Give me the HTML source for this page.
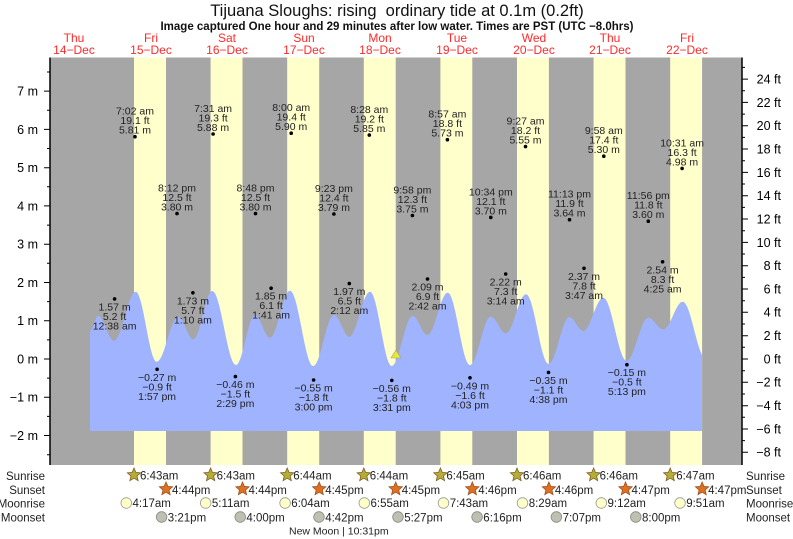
<!DOCTYPE html>
<html><head><meta charset="utf-8"><style>
html,body{margin:0;padding:0;background:#fff}
svg{display:block;font-family:"Liberation Sans",sans-serif}
.l{font-size:10.5px;fill:#222;text-anchor:middle}
.d{font-size:12px;fill:#ff2a2a;text-anchor:middle}
.ax{font-size:12.5px;fill:#000}
.b{font-size:11.5px;fill:#222}
</style></head><body>
<svg width="793" height="539" viewBox="0 0 793 539" xmlns="http://www.w3.org/2000/svg">
<defs>
<path id="st" d="M0,-7 L1.88,-2.59 L6.66,-2.16 L3.04,0.99 L4.11,5.66 L0,3.2 L-4.11,5.66 L-3.04,0.99 L-6.66,-2.16 L-1.88,-2.59Z"/>
</defs>
<text x="397" y="16" font-size="16.5" text-anchor="middle" fill="#111">Tijuana Sloughs: rising&#160; ordinary tide at 0.1m (0.2ft)</text>
<text x="397" y="30" font-size="11.5" font-weight="bold" text-anchor="middle" fill="#111">Image captured One hour and 29 minutes after low water. Times are PST (UTC −8.0hrs)</text>
<g class="d">
<text x="74" y="42">Thu</text><text x="74" y="54">14−Dec</text>
<text x="151" y="42">Fri</text><text x="151" y="54">15−Dec</text>
<text x="227" y="42">Sat</text><text x="227" y="54">16−Dec</text>
<text x="304" y="42">Sun</text><text x="304" y="54">17−Dec</text>
<text x="380" y="42">Mon</text><text x="380" y="54">18−Dec</text>
<text x="457" y="42">Tue</text><text x="457" y="54">19−Dec</text>
<text x="534" y="42">Wed</text><text x="534" y="54">20−Dec</text>
<text x="610" y="42">Thu</text><text x="610" y="54">21−Dec</text>
<text x="687" y="42">Fri</text><text x="687" y="54">22−Dec</text>
</g>
<rect x="50" y="57.5" width="692" height="407.5" fill="#a6a6a6"/>
<g fill="#ffffcc">
<rect x="134" y="57.5" width="32" height="407.5"/>
<rect x="210.6" y="57.5" width="31.9" height="407.5"/>
<rect x="287.2" y="57.5" width="32" height="407.5"/>
<rect x="363.8" y="57.5" width="31.9" height="407.5"/>
<rect x="440.4" y="57.5" width="31.9" height="407.5"/>
<rect x="517" y="57.5" width="31.9" height="407.5"/>
<rect x="593.6" y="57.5" width="31.9" height="407.5"/>
<rect x="670.2" y="57.5" width="31.9" height="407.5"/>
</g>
<path fill="#a0b3ff" d="M90,331 C93,331 95.3,316 98.3,316 C104,316 108.3,340.7 114,340.7 C121.9,340.7 127.8,291.7 135.7,291.7 C143.3,291.7 149.1,361.7 156.7,361.7 C164.6,361.7 170.4,316.7 178.3,316.7 C183.8,316.7 187.8,339.3 193.3,339.3 C200.2,339.3 205.4,291 212.3,291 C220.9,291 227.4,365 236,365 C242.9,365 248.1,315 255,315 C260.5,315 264.5,337.7 270,337.7 C277.3,337.7 282.7,290.7 290,290.7 C298.5,290.7 304.8,366 313.3,366 C320.8,366 326.5,315 334,315 C339.6,315 343.7,336.7 349.3,336.7 C356.8,336.7 362.5,291.7 370,291.7 C377.9,291.7 383.8,366 391.7,366 C399.3,366 405.1,316 412.7,316 C418,316 422,335 427.3,335 C434.7,335 440.3,292.7 447.7,292.7 C455.8,292.7 461.9,365 470,365 C477.5,365 483.2,316.7 490.7,316.7 C496.3,316.7 500.4,333.3 506,333.3 C513.3,333.3 518.7,294.3 526,294.3 C534.3,294.3 540.4,364 548.7,364 C556.2,364 561.8,317.3 569.3,317.3 C574.4,317.3 578.2,331 583.3,331 C590.6,331 596,297.7 603.3,297.7 C611.8,297.7 618.2,360.7 626.7,360.7 C634.6,360.7 640.4,317.7 648.3,317.7 C653.8,317.7 657.8,329.3 663.3,329.3 C670.4,329.3 675.6,301.7 682.7,301.7 C689.7,301.7 695,340 702,355 L702,431 L90,431Z"/>
<polygon points="396,350 391,358 401,358" fill="#e8e830" stroke="#999" stroke-width="0.6"/>
<path stroke="#000" stroke-width="1.5" fill="none" d="M50,57.5 V465 M742,57.5 V465"/>
<path stroke="#000" stroke-width="1" fill="none" d="M50,91.1h-6M50,129.4h-6M50,167.7h-6M50,205.9h-6M50,244.2h-6M50,282.5h-6M50,320.7h-6M50,359h-6M50,397.3h-6M50,435.5h-6M50,72h-3M50,110.2h-3M50,148.5h-3M50,186.8h-3M50,225.1h-3M50,263.3h-3M50,301.6h-3M50,339.9h-3M50,378.1h-3M50,416.4h-3M50,454.7h-3
M742,79.1h6M742,102.4h6M742,125.7h6M742,149h6M742,172.4h6M742,195.7h6M742,219h6M742,242.4h6M742,265.7h6M742,289h6M742,312.3h6M742,335.7h6M742,359h6M742,382.3h6M742,405.7h6M742,429h6M742,452.3h6
M742,67.4h3M742,90.7h3M742,114.1h3M742,137.4h3M742,160.7h3M742,184h3M742,207.4h3M742,230.7h3M742,254h3M742,277.4h3M742,300.7h3M742,324h3M742,347.3h3M742,370.7h3M742,394h3M742,417.3h3M742,440.6h3"/>
<g class="ax" text-anchor="end">
<text x="38" y="95.5">7 m</text><text x="38" y="133.8">6 m</text><text x="38" y="172.1">5 m</text><text x="38" y="210.3">4 m</text><text x="38" y="248.6">3 m</text><text x="38" y="286.9">2 m</text><text x="38" y="325.1">1 m</text><text x="38" y="363.4">0 m</text><text x="38" y="401.7">−1 m</text><text x="38" y="439.9">−2 m</text>
</g>
<g class="ax" text-anchor="end">
<text x="781" y="83.5">24 ft</text><text x="781" y="106.8">22 ft</text><text x="781" y="130.1">20 ft</text><text x="781" y="153.4">18 ft</text><text x="781" y="176.8">16 ft</text><text x="781" y="200.1">14 ft</text><text x="781" y="223.4">12 ft</text><text x="781" y="246.8">10 ft</text><text x="781" y="270.1">8 ft</text><text x="781" y="293.4">6 ft</text><text x="781" y="316.7">4 ft</text><text x="781" y="340.1">2 ft</text><text x="781" y="363.4">0 ft</text><text x="781" y="386.7">−2 ft</text><text x="781" y="410.1">−4 ft</text><text x="781" y="433.4">−6 ft</text><text x="781" y="456.7">−8 ft</text>
</g>
<g fill="#000">
<circle cx="135" cy="136.7" r="1.8"/><circle cx="213.1" cy="134" r="1.8"/><circle cx="291.2" cy="133.2" r="1.8"/><circle cx="369.3" cy="135.1" r="1.8"/><circle cx="447.4" cy="139.7" r="1.8"/><circle cx="525.5" cy="146.6" r="1.8"/><circle cx="603.8" cy="156.2" r="1.8"/><circle cx="682.1" cy="168.4" r="1.8"/>
<circle cx="177" cy="213.6" r="1.8"/><circle cx="255.5" cy="213.6" r="1.8"/><circle cx="333.9" cy="214" r="1.8"/><circle cx="412.4" cy="215.5" r="1.8"/><circle cx="490.8" cy="217.4" r="1.8"/><circle cx="569.5" cy="219.7" r="1.8"/><circle cx="648.3" cy="221.2" r="1.8"/>
<circle cx="114.6" cy="298.9" r="1.8"/><circle cx="192.9" cy="292.8" r="1.8"/><circle cx="271.1" cy="288.2" r="1.8"/><circle cx="349.3" cy="283.6" r="1.8"/><circle cx="427.5" cy="279" r="1.8"/><circle cx="505.7" cy="274" r="1.8"/><circle cx="584" cy="268.3" r="1.8"/><circle cx="662.6" cy="261.8" r="1.8"/>
<circle cx="157.1" cy="369.3" r="1.8"/><circle cx="235.4" cy="376.6" r="1.8"/><circle cx="313.6" cy="380" r="1.8"/><circle cx="391.8" cy="380.4" r="1.8"/><circle cx="470" cy="377.8" r="1.8"/><circle cx="548.5" cy="372.4" r="1.8"/><circle cx="626.9" cy="364.7" r="1.8"/>
</g>
<g class="l">
<text x="135" y="114.7">7:02 am</text><text x="135" y="124.2">19.1 ft</text><text x="135" y="133.7">5.81 m</text>
<text x="213.1" y="112">7:31 am</text><text x="213.1" y="121.5">19.3 ft</text><text x="213.1" y="131">5.88 m</text>
<text x="291.2" y="111.2">8:00 am</text><text x="291.2" y="120.7">19.4 ft</text><text x="291.2" y="130.2">5.90 m</text>
<text x="369.3" y="113.1">8:28 am</text><text x="369.3" y="122.6">19.2 ft</text><text x="369.3" y="132.1">5.85 m</text>
<text x="447.4" y="117.7">8:57 am</text><text x="447.4" y="127.2">18.8 ft</text><text x="447.4" y="136.7">5.73 m</text>
<text x="525.5" y="124.6">9:27 am</text><text x="525.5" y="134.1">18.2 ft</text><text x="525.5" y="143.6">5.55 m</text>
<text x="603.8" y="134.2">9:58 am</text><text x="603.8" y="143.7">17.4 ft</text><text x="603.8" y="153.2">5.30 m</text>
<text x="682.1" y="146.4">10:31 am</text><text x="682.1" y="155.9">16.3 ft</text><text x="682.1" y="165.4">4.98 m</text>
<text x="177" y="191.6">8:12 pm</text><text x="177" y="201.1">12.5 ft</text><text x="177" y="210.6">3.80 m</text>
<text x="255.5" y="191.6">8:48 pm</text><text x="255.5" y="201.1">12.5 ft</text><text x="255.5" y="210.6">3.80 m</text>
<text x="333.9" y="192">9:23 pm</text><text x="333.9" y="201.5">12.4 ft</text><text x="333.9" y="211">3.79 m</text>
<text x="412.4" y="193.5">9:58 pm</text><text x="412.4" y="203">12.3 ft</text><text x="412.4" y="212.5">3.75 m</text>
<text x="490.8" y="195.4">10:34 pm</text><text x="490.8" y="204.9">12.1 ft</text><text x="490.8" y="214.4">3.70 m</text>
<text x="569.5" y="197.7">11:13 pm</text><text x="569.5" y="207.2">11.9 ft</text><text x="569.5" y="216.7">3.64 m</text>
<text x="648.3" y="199.2">11:56 pm</text><text x="648.3" y="208.7">11.8 ft</text><text x="648.3" y="218.2">3.60 m</text>
<text x="114.6" y="310.4">1.57 m</text><text x="114.6" y="319.9">5.2 ft</text><text x="114.6" y="329.4">12:38 am</text>
<text x="192.9" y="304.3">1.73 m</text><text x="192.9" y="313.8">5.7 ft</text><text x="192.9" y="323.3">1:10 am</text>
<text x="271.1" y="299.7">1.85 m</text><text x="271.1" y="309.2">6.1 ft</text><text x="271.1" y="318.7">1:41 am</text>
<text x="349.3" y="295.1">1.97 m</text><text x="349.3" y="304.6">6.5 ft</text><text x="349.3" y="314.1">2:12 am</text>
<text x="427.5" y="290.5">2.09 m</text><text x="427.5" y="300">6.9 ft</text><text x="427.5" y="309.5">2:42 am</text>
<text x="505.7" y="285.5">2.22 m</text><text x="505.7" y="295">7.3 ft</text><text x="505.7" y="304.5">3:14 am</text>
<text x="584" y="279.8">2.37 m</text><text x="584" y="289.3">7.8 ft</text><text x="584" y="298.8">3:47 am</text>
<text x="662.6" y="273.3">2.54 m</text><text x="662.6" y="282.8">8.3 ft</text><text x="662.6" y="292.3">4:25 am</text>
<text x="157.1" y="380.8">−0.27 m</text><text x="157.1" y="390.3">−0.9 ft</text><text x="157.1" y="399.8">1:57 pm</text>
<text x="235.4" y="388.1">−0.46 m</text><text x="235.4" y="397.6">−1.5 ft</text><text x="235.4" y="407.1">2:29 pm</text>
<text x="313.6" y="391.5">−0.55 m</text><text x="313.6" y="401">−1.8 ft</text><text x="313.6" y="410.5">3:00 pm</text>
<text x="391.8" y="391.9">−0.56 m</text><text x="391.8" y="401.4">−1.8 ft</text><text x="391.8" y="410.9">3:31 pm</text>
<text x="470" y="389.3">−0.49 m</text><text x="470" y="398.8">−1.6 ft</text><text x="470" y="408.3">4:03 pm</text>
<text x="548.5" y="383.9">−0.35 m</text><text x="548.5" y="393.4">−1.1 ft</text><text x="548.5" y="402.9">4:38 pm</text>
<text x="626.9" y="376.2">−0.15 m</text><text x="626.9" y="385.7">−0.5 ft</text><text x="626.9" y="395.2">5:13 pm</text>
</g>
<g class="b" text-anchor="end">
<text x="45" y="480">Sunrise</text><text x="45" y="494">Sunset</text><text x="45" y="507.5">Moonrise</text><text x="45" y="521.5">Moonset</text>
</g>
<g class="b">
<text x="746" y="480">Sunrise</text><text x="746" y="494">Sunset</text><text x="746" y="507.5">Moonrise</text><text x="746" y="521.5">Moonset</text>
</g>
<g fill="#b0b038" stroke="#8a5a20" stroke-width="0.8">
<use href="#st" x="134" y="475"/><use href="#st" x="210.6" y="475"/><use href="#st" x="287.2" y="475"/><use href="#st" x="363.8" y="475"/><use href="#st" x="440.4" y="475"/><use href="#st" x="517" y="475"/><use href="#st" x="593.6" y="475"/><use href="#st" x="670.2" y="475"/>
</g>
<g fill="#e07020" stroke="#9a5020" stroke-width="0.8">
<use href="#st" x="166" y="489"/><use href="#st" x="242.5" y="489"/><use href="#st" x="319.2" y="489"/><use href="#st" x="395.7" y="489"/><use href="#st" x="472.3" y="489"/><use href="#st" x="548.9" y="489"/><use href="#st" x="625.5" y="489"/><use href="#st" x="702.1" y="489"/>
</g>
<g fill="#ffffc8" stroke="#999" stroke-width="0.8">
<circle cx="126.3" cy="503" r="5.3"/><circle cx="205.7" cy="503" r="5.3"/><circle cx="285.1" cy="503" r="5.3"/><circle cx="364.3" cy="503" r="5.3"/><circle cx="443.5" cy="503" r="5.3"/><circle cx="522.5" cy="503" r="5.3"/><circle cx="601.3" cy="503" r="5.3"/><circle cx="680" cy="503" r="5.3"/>
</g>
<g fill="#c0c0b0" stroke="#888" stroke-width="0.8">
<circle cx="161.6" cy="517" r="5.3"/><circle cx="240.2" cy="517" r="5.3"/><circle cx="319" cy="517" r="5.3"/><circle cx="398" cy="517" r="5.3"/><circle cx="477.1" cy="517" r="5.3"/><circle cx="556.4" cy="517" r="5.3"/><circle cx="635.8" cy="517" r="5.3"/>
</g>
<g class="b" font-size="11">
<text x="140" y="479.5">6:43am</text><text x="216.6" y="479.5">6:43am</text><text x="293.2" y="479.5">6:44am</text><text x="369.8" y="479.5">6:44am</text><text x="446.4" y="479.5">6:45am</text><text x="523" y="479.5">6:46am</text><text x="599.6" y="479.5">6:46am</text><text x="676.2" y="479.5">6:47am</text>
<text x="172" y="494">4:44pm</text><text x="248.5" y="494">4:44pm</text><text x="325.2" y="494">4:45pm</text><text x="401.7" y="494">4:45pm</text><text x="478.3" y="494">4:46pm</text><text x="554.9" y="494">4:46pm</text><text x="631.5" y="494">4:47pm</text><text x="708.1" y="494">4:47pm</text>
<text x="132.5" y="507">4:17am</text><text x="211.9" y="507">5:11am</text><text x="291.3" y="507">6:04am</text><text x="370.5" y="507">6:55am</text><text x="449.7" y="507">7:43am</text><text x="528.7" y="507">8:29am</text><text x="607.5" y="507">9:12am</text><text x="686.2" y="507">9:51am</text>
<text x="167.8" y="521.5">3:21pm</text><text x="246.4" y="521.5">4:00pm</text><text x="325.2" y="521.5">4:42pm</text><text x="404.2" y="521.5">5:27pm</text><text x="483.3" y="521.5">6:16pm</text><text x="562.6" y="521.5">7:07pm</text><text x="642" y="521.5">8:00pm</text>
<text x="289" y="534.5" font-size="10.5">New Moon | 10:31pm</text>
</g>
</svg>
</body></html>
